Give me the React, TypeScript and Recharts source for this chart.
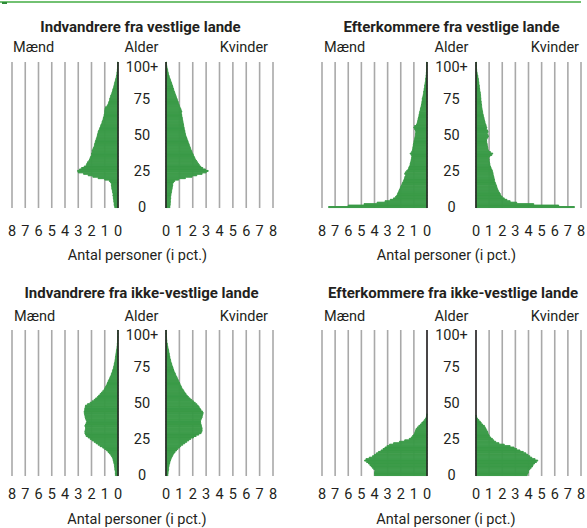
import { BarChart, Bar, XAxis, YAxis, CartesianGrid, ReferenceLine } from "recharts";

// ages 0..100 (100 = 100+)
const ages = Array.from({ length: 101 }, (_, i) => i);
const pctTicks = [0, 1, 2, 3, 4, 5, 6, 7, 8];

// Indvandrere fra vestlige lande
const vestImmMen = [
  0.25, 0.28, 0.3, 0.3, 0.32, 0.33, 0.35, 0.36, 0.38, 0.38,
  0.4, 0.42, 0.45, 0.47, 0.48, 0.5, 0.5, 0.55, 0.65, 1.0,
  1.5, 1.9, 2.25, 2.6, 3.0, 3.05, 2.9, 2.75, 2.55, 2.4,
  2.35, 2.3, 2.2, 2.15, 2.1, 2.05, 2.0, 2.0, 1.95, 1.95,
  1.9, 1.85, 1.8, 1.78, 1.75, 1.72, 1.68, 1.65, 1.6, 1.58,
  1.55, 1.52, 1.5, 1.45, 1.4, 1.36, 1.32, 1.28, 1.22, 1.2,
  1.15, 1.12, 1.1, 1.06, 1.04, 1.02, 1.0, 1.0, 0.98, 0.95,
  0.82, 0.76, 0.72, 0.68, 0.64, 0.62, 0.58, 0.55, 0.5, 0.46,
  0.42, 0.4, 0.36, 0.33, 0.3, 0.28, 0.25, 0.22, 0.19, 0.16,
  0.13, 0.11, 0.09, 0.08, 0.06, 0.05, 0.04, 0.03, 0.02, 0.02,
  0.03,
];
const vestImmWomen = [
  0.3, 0.3, 0.32, 0.32, 0.33, 0.33, 0.35, 0.35, 0.36, 0.38,
  0.4, 0.42, 0.44, 0.46, 0.48, 0.5, 0.5, 0.55, 0.65, 0.95,
  1.45, 1.95, 2.3, 2.7, 3.0, 3.15, 2.95, 2.75, 2.6, 2.5,
  2.42, 2.35, 2.28, 2.2, 2.15, 2.1, 2.05, 2.0, 1.95, 1.9,
  1.86, 1.82, 1.78, 1.74, 1.7, 1.66, 1.62, 1.58, 1.54, 1.5,
  1.46, 1.44, 1.42, 1.4, 1.37, 1.35, 1.33, 1.31, 1.29, 1.27,
  1.25, 1.23, 1.21, 1.19, 1.17, 1.15, 1.18, 1.14, 1.1, 1.05,
  1.0, 0.97, 0.93, 0.9, 0.86, 0.82, 0.78, 0.74, 0.7, 0.66,
  0.62, 0.58, 0.55, 0.52, 0.48, 0.45, 0.41, 0.37, 0.33, 0.29,
  0.25, 0.22, 0.19, 0.16, 0.14, 0.12, 0.09, 0.07, 0.05, 0.04,
  0.03,
];

// Efterkommere fra vestlige lande
const vestDescMen = [
  7.5, 6.0, 4.8, 3.8, 3.2, 2.8, 2.55, 2.4, 2.3, 2.25,
  2.2, 2.15, 2.1, 2.05, 2.0, 1.95, 1.9, 1.85, 1.8, 1.75,
  1.72, 1.68, 1.62, 1.7, 1.65, 1.55, 1.45, 1.4, 1.35, 1.3,
  1.28, 1.25, 1.22, 1.2, 1.18, 1.15, 1.2, 1.28, 1.18, 1.12,
  1.1, 1.08, 1.06, 1.05, 1.02, 1.0, 0.97, 0.95, 0.92, 0.9,
  0.88, 0.87, 0.86, 0.88, 0.95, 1.0, 0.95, 0.8, 0.76, 0.72,
  0.7, 0.68, 0.65, 0.62, 0.6, 0.58, 0.55, 0.52, 0.5, 0.47,
  0.44, 0.42, 0.4, 0.38, 0.37, 0.36, 0.33, 0.3, 0.28, 0.26,
  0.25, 0.23, 0.21, 0.19, 0.18, 0.16, 0.14, 0.12, 0.11, 0.1,
  0.08, 0.07, 0.06, 0.05, 0.04, 0.04, 0.03, 0.03, 0.02, 0.02,
  0.02,
];
const vestDescWomen = [
  7.5, 6.3, 4.4, 3.1, 2.6, 2.35, 2.15, 2.0, 1.9, 1.85,
  1.78, 1.72, 1.66, 1.62, 1.58, 1.55, 1.5, 1.46, 1.42, 1.4,
  1.38, 1.35, 1.32, 1.3, 1.28, 1.25, 1.2, 1.15, 1.1, 1.07,
  1.05, 1.03, 1.0, 1.0, 0.98, 1.05, 1.2, 1.27, 1.1, 0.95,
  0.92, 0.9, 0.88, 0.86, 0.84, 0.82, 0.8, 0.82, 0.9, 0.95,
  0.9, 0.85, 0.92, 0.88, 0.8, 0.82, 0.78, 0.75, 0.7, 0.68,
  0.65, 0.62, 0.6, 0.57, 0.54, 0.52, 0.5, 0.48, 0.46, 0.44,
  0.43, 0.42, 0.4, 0.39, 0.38, 0.37, 0.36, 0.35, 0.34, 0.33,
  0.3, 0.29, 0.27, 0.26, 0.25, 0.23, 0.22, 0.2, 0.19, 0.17,
  0.15, 0.13, 0.1, 0.08, 0.06, 0.05, 0.04, 0.03, 0.02, 0.02,
  0.02,
];

// Indvandrere fra ikke-vestlige lande
const ikkeImmMen = [
  0.2, 0.2, 0.2, 0.22, 0.24, 0.25, 0.26, 0.28, 0.3, 0.33,
  0.36, 0.38, 0.42, 0.48, 0.55, 0.65, 0.75, 0.85, 1.0, 1.15,
  1.35, 1.5, 1.65, 1.8, 1.95, 2.1, 2.25, 2.4, 2.45, 2.5,
  2.5, 2.48, 2.45, 2.45, 2.5, 2.45, 2.4, 2.35, 2.4, 2.45,
  2.48, 2.5, 2.52, 2.55, 2.55, 2.52, 2.5, 2.48, 2.45, 2.3,
  2.1, 1.95, 1.8, 1.68, 1.55, 1.45, 1.35, 1.25, 1.15, 1.05,
  1.0, 0.94, 0.88, 0.83, 0.78, 0.74, 0.68, 0.63, 0.58, 0.53,
  0.5, 0.45, 0.42, 0.38, 0.35, 0.32, 0.3, 0.28, 0.25, 0.23,
  0.21, 0.2, 0.18, 0.17, 0.15, 0.14, 0.12, 0.1, 0.08, 0.07,
  0.06, 0.05, 0.04, 0.03, 0.03, 0.02, 0.02, 0.01, 0.01, 0.01,
  0.01,
];
const ikkeImmWomen = [
  0.15, 0.15, 0.16, 0.18, 0.2, 0.2, 0.22, 0.24, 0.27, 0.3,
  0.33, 0.37, 0.42, 0.47, 0.53, 0.6, 0.68, 0.78, 0.88, 1.0,
  1.1, 1.25, 1.4, 1.55, 1.7, 1.85, 2.05, 2.25, 2.45, 2.62,
  2.68, 2.7, 2.7, 2.68, 2.65, 2.62, 2.6, 2.58, 2.6, 2.65,
  2.7, 2.72, 2.75, 2.78, 2.72, 2.62, 2.55, 2.48, 2.4, 2.3,
  2.18, 2.05, 1.92, 1.8, 1.68, 1.58, 1.5, 1.42, 1.35, 1.28,
  1.2, 1.15, 1.1, 1.05, 1.0, 0.95, 0.9, 0.85, 0.8, 0.74,
  0.7, 0.65, 0.6, 0.56, 0.53, 0.49, 0.45, 0.42, 0.38, 0.35,
  0.33, 0.3, 0.28, 0.26, 0.24, 0.22, 0.2, 0.18, 0.15, 0.13,
  0.11, 0.09, 0.07, 0.06, 0.05, 0.04, 0.03, 0.02, 0.02, 0.01,
  0.01,
];

// Efterkommere fra ikke-vestlige lande
const ikkeDescMen = [
  4.0, 4.0, 4.0, 3.95, 4.05, 4.15, 4.25, 4.35, 4.45, 4.6,
  4.75, 4.65, 4.4, 4.15, 4.0, 3.85, 3.7, 3.5, 3.35, 3.2,
  3.05, 2.85, 2.55, 2.1, 1.7, 1.35, 1.2, 1.1, 1.0, 0.95,
  0.9, 0.87, 0.82, 0.72, 0.62, 0.5, 0.4, 0.3, 0.2, 0.12,
  0.06, 0.03, 0.01, 0, 0, 0, 0, 0, 0, 0,
  0, 0, 0, 0, 0, 0, 0, 0, 0, 0,
  0, 0, 0, 0, 0, 0, 0, 0, 0, 0,
  0, 0, 0, 0, 0, 0, 0, 0, 0, 0,
  0, 0, 0, 0, 0, 0, 0, 0, 0, 0,
  0, 0, 0, 0, 0, 0, 0, 0, 0, 0,
  0,
];
const ikkeDescWomen = [
  3.9, 3.95, 4.0, 4.0, 4.1, 4.2, 4.3, 4.35, 4.45, 4.6,
  4.7, 4.5, 4.25, 4.1, 3.95, 3.8, 3.6, 3.35, 3.1, 2.9,
  2.6, 2.15, 1.75, 1.5, 1.35, 1.25, 1.12, 1.02, 0.96, 0.92,
  0.88, 0.82, 0.76, 0.7, 0.64, 0.5, 0.4, 0.32, 0.22, 0.12,
  0.05, 0.02, 0, 0, 0, 0, 0, 0, 0, 0,
  0, 0, 0, 0, 0, 0, 0, 0, 0, 0,
  0, 0, 0, 0, 0, 0, 0, 0, 0, 0,
  0, 0, 0, 0, 0, 0, 0, 0, 0, 0,
  0, 0, 0, 0, 0, 0, 0, 0, 0, 0,
  0, 0, 0, 0, 0, 0, 0, 0, 0, 0,
  0,
];

const GREEN = "#3a9a47";
const GRID = "#a9a9a9";
const INK = "#231f20";
const FONT = "Roboto, 'Liberation Sans', sans-serif";
const PAD = 8;
const TOP = 8;
const AXIS_H = 40;
const FS = 14.5;

type Panel = {
  title: string;
  men: number[];
  women: number[];
  l8: number;
  l0: number;
  r0: number;
  r8: number;
  top: number;
  bottom: number;
  titleX: number;
  titleY: number;
  labelY: number;
  maendX: number;
  kvinderX: number;
  digitY: number;
  unitX: number;
  unitY: number;
};

const panels: Panel[] = [
  {
    title: "Indvandrere fra vestlige lande",
    men: vestImmMen, women: vestImmWomen,
    l8: 11.5, l0: 117.5, r0: 165.5, r8: 272.5, top: 62, bottom: 208,
    titleX: 140.5, titleY: 31.5, labelY: 52, maendX: 13, kvinderX: 268,
    digitY: 235.5, unitX: 137.5, unitY: 259.5,
  },
  {
    title: "Efterkommere fra vestlige lande",
    men: vestDescMen, women: vestDescWomen,
    l8: 322, l0: 427, r0: 476, r8: 581, top: 62, bottom: 208,
    titleX: 451.5, titleY: 31.5, labelY: 52, maendX: 324, kvinderX: 579,
    digitY: 235.5, unitX: 446.5, unitY: 259.5,
  },
  {
    title: "Indvandrere fra ikke-vestlige lande",
    men: ikkeImmMen, women: ikkeImmWomen,
    l8: 11.5, l0: 117.5, r0: 165.5, r8: 272.5, top: 330, bottom: 476,
    titleX: 141.5, titleY: 298, labelY: 321, maendX: 14, kvinderX: 268,
    digitY: 499, unitX: 137, unitY: 524,
  },
  {
    title: "Efterkommere fra ikke-vestlige lande",
    men: ikkeDescMen, women: ikkeDescWomen,
    l8: 322, l0: 427, r0: 476, r8: 581, top: 330, bottom: 476,
    titleX: 453, titleY: 298, labelY: 321, maendX: 324, kvinderX: 579,
    digitY: 499, unitX: 446, unitY: 524,
  },
];

function Pyramid({ p }: { p: Panel }) {
  const rows = ages.map((age, i) => ({ age, men: -p.men[i], women: p.women[i] }));
  const plotH = p.bottom - p.top;
  const gapW = p.r0 - p.l0;
  const digitTick = (props: any) => (
    <text
      x={props.x}
      y={p.digitY - p.top + TOP}
      textAnchor="middle"
      fill={INK}
      fontSize={FS}
      fontFamily={FONT}
    >
      {Math.abs(props.payload.value)}
    </text>
  );
  const ageTick = (props: any) => {
    const v = props.payload.value;
    return (
      <text
        x={gapW / 2}
        y={Math.max(props.y, TOP + 5)}
        dy="0.36em"
        textAnchor="middle"
        fill={INK}
        fontSize={FS}
        fontFamily={FONT}
      >
        {v === 100 ? "100+" : v}
      </text>
    );
  };

  return (
    <>
      <div style={{ position: "absolute", left: p.l8 - PAD, top: p.top - TOP }}>
        <BarChart
          width={p.l0 - p.l8 + 2 * PAD}
          height={plotH + AXIS_H + TOP}
          data={rows}
          layout="vertical"
          margin={{ top: TOP, right: PAD, bottom: 0, left: PAD }}
          barCategoryGap={0}
          barGap={0}
        >
          <CartesianGrid horizontal={false} stroke={GRID} strokeWidth={1.6} />
          <XAxis
            type="number"
            domain={[-8, 0]}
            ticks={pctTicks.map((t) => -t)}
            interval={0}
            axisLine={false}
            tickLine={false}
            height={AXIS_H}
            tick={digitTick}
          />
          <YAxis type="category" dataKey="age" reversed hide />
          <Bar dataKey="men" fill={GREEN} stroke={GREEN} strokeWidth={1} isAnimationActive={false} />
          <ReferenceLine x={0} stroke={INK} strokeWidth={1.5} />
        </BarChart>
      </div>
      <div style={{ position: "absolute", left: p.l0, top: p.top - TOP }}>
        <BarChart
          width={p.r8 - p.l0 + PAD}
          height={plotH + AXIS_H + TOP}
          data={rows}
          layout="vertical"
          margin={{ top: TOP, right: PAD, bottom: 0, left: 0 }}
          barCategoryGap={0}
          barGap={0}
        >
          <CartesianGrid horizontal={false} stroke={GRID} strokeWidth={1.6} />
          <XAxis
            type="number"
            domain={[0, 8]}
            ticks={pctTicks}
            interval={0}
            axisLine={false}
            tickLine={false}
            height={AXIS_H}
            tick={digitTick}
          />
          <YAxis
            type="category"
            dataKey="age"
            reversed
            width={gapW}
            interval={24}
            axisLine={false}
            tickLine={false}
            tick={ageTick}
          />
          <Bar dataKey="women" fill={GREEN} stroke={GREEN} strokeWidth={1} isAnimationActive={false} />
          <ReferenceLine x={0} stroke={INK} strokeWidth={1.5} />
        </BarChart>
      </div>
    </>
  );
}

export default function App() {
  return (
    <div
      style={{
        position: "absolute",
        left: 0,
        top: 0,
        width: 587,
        height: 528,
        overflow: "hidden",
        background: "#fff",
      }}
    >
      <div style={{ position: "absolute", left: 0, top: 1, width: 581, height: 2, background: "#72c172" }} />
      <div style={{ position: "absolute", left: 2, top: 2, width: 5, height: 2, background: "#2e8a3a" }} />
      {panels.map((p) => (
        <Pyramid key={p.title} p={p} />
      ))}
      <svg
        width={587}
        height={528}
        style={{ position: "absolute", left: 0, top: 0, pointerEvents: "none" }}
        fontFamily={FONT}
        fill={INK}
      >
        {panels.map((p) => (
          <g key={p.title}>
            <text x={p.titleX} y={p.titleY} textAnchor="middle" fontSize={15} fontWeight="bold">
              {p.title}
            </text>
            <text x={p.maendX} y={p.labelY} fontSize={FS}>
              Mænd
            </text>
            <text x={(p.l0 + p.r0) / 2} y={p.labelY} textAnchor="middle" fontSize={FS}>
              Alder
            </text>
            <text x={p.kvinderX} y={p.labelY} textAnchor="end" fontSize={FS}>
              Kvinder
            </text>
            <text x={p.unitX} y={p.unitY} textAnchor="middle" fontSize={FS}>
              Antal personer (i pct.)
            </text>
          </g>
        ))}
      </svg>
    </div>
  );
}
